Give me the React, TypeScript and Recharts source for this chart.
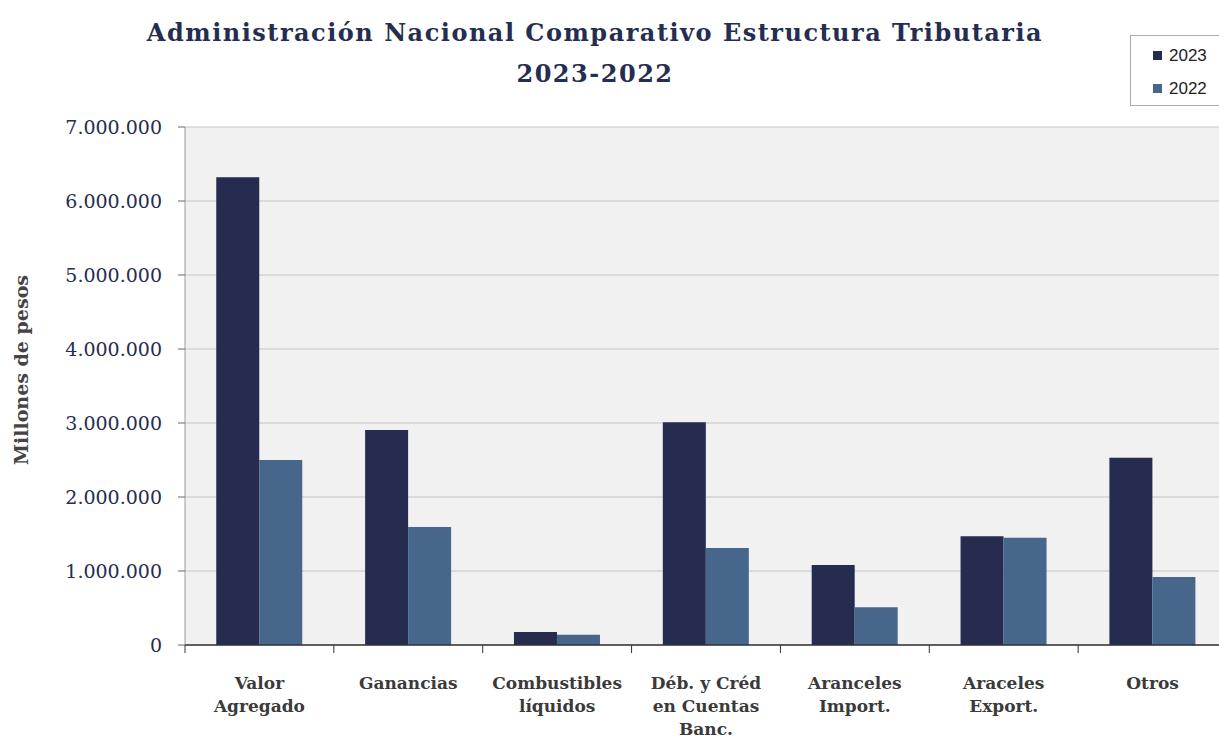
import { BarChart, Bar, XAxis, YAxis, CartesianGrid } from 'recharts'

// ─── Data (millones de pesos) ────────────────────────────────────────────────
const CATEGORIES = [
  'Valor\nAgregado',
  'Ganancias',
  'Combustibles\nlíquidos',
  'Déb. y Créd\nen Cuentas\nBanc.',
  'Aranceles\nImport.',
  'Araceles\nExport.',
  'Otros',
]
const VALUES_2023 = [6320000, 2905000, 175000, 3010000, 1080000, 1470000, 2530000]
const VALUES_2022 = [2500000, 1595000, 140000, 1310000, 510000, 1450000, 920000]
const Y_TICKS = [0, 1000000, 2000000, 3000000, 4000000, 5000000, 6000000, 7000000]
const SERIES = [
  { key: 'v2023', label: '2023', color: '#252c4f' },
  { key: 'v2022', label: '2022', color: '#46668c' },
]

const TITLE_COLOR = '#252d50'

const data = CATEGORIES.map((name, i) => ({ name, v2023: VALUES_2023[i], v2022: VALUES_2022[i] }))

const W = 1240
const H = 740
const X_H = 95
const Y_W = 185
const M = { top: 127, right: 13, left: 0, bottom: 0 }
const BAND = (W - Y_W - M.right) / CATEGORIES.length

const SERIF = '"DejaVu Serif", serif'
const fmt = (v: number) => v.toString().replace(/\B(?=(\d{3})+(?!\d))/g, '.')

// category label + boundary tick (the reference ticks sit between groups)
function CatTick({ x, y, payload }: any) {
  const lines = String(payload.value).split('\n')
  return (
    <g>
      <line x1={x - BAND / 2} x2={x - BAND / 2} y1={y - 8} y2={y} stroke="#333" />
      <text x={x} y={y + 36} textAnchor="middle" fontFamily={SERIF} fontWeight="bold" fontSize={17} fill="#3a3a3a">
        {lines.map((l, i) => (
          <tspan key={i} x={x} dy={i === 0 ? 0 : 23}>{l}</tspan>
        ))}
      </text>
    </g>
  )
}

function YTitle({ viewBox }: any) {
  const cx = 28
  const cy = viewBox.y + viewBox.height / 2 - 16
  return (
    <text
      x={cx} y={cy} transform={`rotate(-90, ${cx}, ${cy})`} textAnchor="middle"
      fontFamily={SERIF} fontWeight="bold" fontSize={19} fill="#444"
    >
      Millones de pesos
    </text>
  )
}

function LegendBox() {
  return (
    <div
      style={{
        position: 'absolute', left: 1130, top: 35, width: 110, height: 71, boxSizing: 'border-box',
        border: '1px solid #aaa', background: '#fff', paddingTop: 3,
      }}
    >
      {SERIES.map((s) => (
        <div key={s.key} style={{ display: 'flex', alignItems: 'center', height: 33, paddingLeft: 22, fontFamily: '"Liberation Sans", Arial, sans-serif', fontSize: 17, color: '#222' }}>
          <span style={{ width: 9, height: 9, background: s.color, display: 'inline-block', marginRight: 7 }} />
          {s.label}
        </div>
      ))}
    </div>
  )
}

export default function App() {
  return (
    <div style={{ position: 'absolute', left: 0, top: 0, width: W, height: H, background: '#fff' }}>
      <div
        style={{
          position: 'absolute', left: 0, width: 1190, top: 12, textAlign: 'center',
          fontFamily: SERIF, fontWeight: 'bold', fontSize: 24, lineHeight: '41px', color: TITLE_COLOR, letterSpacing: 1.5,
        }}
      >
        Administración Nacional Comparativo Estructura Tributaria
        <br />
        2023-2022
      </div>
      <BarChart width={W} height={H} data={data} margin={M} barCategoryGap="21%" barGap={0}>
        <CartesianGrid vertical={false} stroke="#c4c4c4" fill="#f1f1f1" />
        <XAxis
          dataKey="name"
          interval={0}
          tick={<CatTick />}
          tickLine={false}
          axisLine={{ stroke: '#333', strokeWidth: 1.5 }}
          height={X_H}
        />
        <YAxis
          width={Y_W}
          domain={[0, 7000000]}
          ticks={Y_TICKS}
          tickFormatter={fmt}
          tickSize={7}
          tickMargin={16}
          axisLine={{ stroke: '#999' }}
          tickLine={{ stroke: '#666' }}
          tick={{ fontFamily: SERIF, fontSize: 19, fill: TITLE_COLOR }}
          label={{ content: <YTitle /> }}
        />
        {SERIES.map((s) => (
          <Bar key={s.key} dataKey={s.key} name={s.label} fill={s.color} isAnimationActive={false} />
        ))}
      </BarChart>
      <LegendBox />
    </div>
  )
}
